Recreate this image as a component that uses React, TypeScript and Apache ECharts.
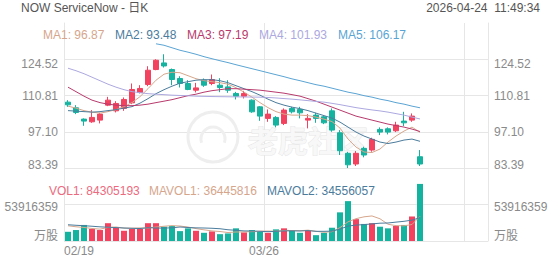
import React, { useEffect, useRef } from 'react';
import * as echarts from 'echarts';

const title = 'NOW ServiceNow - 日K';
const timestamp = '2026-04-24  11:49:34';

const dates = [
  '02/19', '02/20', '02/23', '02/24', '02/25', '02/26', '02/27', '03/02', '03/03', '03/04',
  '03/05', '03/06', '03/09', '03/10', '03/11', '03/12', '03/13', '03/16', '03/17', '03/18',
  '03/19', '03/20', '03/23', '03/24', '03/25', '03/26', '03/27', '03/30', '03/31', '04/01',
  '04/02', '04/06', '04/07', '04/08', '04/09', '04/10', '04/13', '04/14', '04/15', '04/16',
  '04/17', '04/20', '04/21', '04/22', '04/23',
];
const emptySlots = 8;
const labelEvery = 25;

const opens = [
  108.30, 106.15, 101.88, 100.86, 101.50, 107.16, 105.01, 105.92, 108.03, 111.96,
  114.98, 120.63, 123.13, 120.63, 117.24, 115.35, 112.82, 116.60, 115.35, 114.71,
  114.07, 111.58, 110.56, 109.05, 106.52, 102.15, 102.52, 100.26, 105.92, 105.54,
  101.50, 103.39, 102.75, 105.01, 96.71, 88.94, 84.90, 90.82, 90.18, 97.99,
  98.22, 97.47, 101.13, 101.50, 87.65,
];
const closes = [
  107.28, 104.41, 101.13, 102.52, 103.77, 109.05, 107.80, 109.31, 113.09, 113.47,
  120.37, 124.14, 121.99, 116.86, 115.35, 113.09, 113.69, 114.71, 116.86, 113.84,
  112.82, 110.56, 111.58, 104.64, 103.01, 103.77, 99.62, 105.28, 104.64, 104.26,
  102.15, 102.15, 100.48, 97.73, 89.92, 84.60, 88.94, 88.30, 94.22, 96.97,
  96.97, 99.62, 100.48, 103.01, 84.90,
];
const lows = [
  106.52, 103.77, 99.35, 100.48, 100.26, 106.79, 104.41, 105.01, 107.54, 111.58,
  114.33, 120.37, 121.39, 114.71, 113.84, 112.82, 111.96, 114.07, 114.71, 112.07,
  111.81, 109.31, 109.69, 104.26, 101.24, 100.86, 98.75, 99.62, 104.03, 102.15,
  98.38, 100.48, 99.99, 97.09, 88.30, 83.39, 84.14, 87.43, 89.54, 95.84,
  96.09, 96.97, 99.24, 100.86, 84.14,
];
const highs = [
  109.05, 107.16, 102.15, 105.28, 104.26, 110.30, 108.67, 110.07, 115.35, 114.71,
  121.88, 124.52, 126.41, 121.01, 118.10, 116.60, 115.58, 117.24, 118.75, 117.35,
  116.60, 112.18, 112.56, 109.31, 106.79, 105.54, 103.01, 105.92, 106.52, 106.52,
  103.77, 104.26, 103.28, 105.92, 97.73, 89.50, 89.80, 91.43, 94.82, 98.75,
  98.75, 100.86, 104.64, 104.03, 90.18,
];

const ma1 = [
  106.79, 106.03, 105.09, 104.52, 104.14, 104.71, 105.47, 106.60, 108.11, 110.37,
  113.39, 116.60, 118.86, 119.62, 119.43, 118.30, 117.16, 116.41, 116.03, 115.65,
  115.09, 113.77, 112.07, 110.18, 108.11, 106.22, 104.71, 103.77, 103.39, 103.39,
  103.20, 102.64, 101.88, 100.94, 98.48, 94.33, 91.31, 89.43, 89.24, 90.56,
  93.20, 95.47, 97.35, 98.86, 96.87,
];
const ma2 = [
  105.09, 104.90, 104.71, 104.52, 104.71, 105.09, 105.47, 106.03, 106.60, 107.92,
  109.62, 111.50, 113.01, 114.33, 115.47, 116.03, 116.60, 116.79, 116.79, 116.41,
  115.65, 114.52, 113.39, 112.26, 110.94, 109.43, 108.11, 107.16, 106.41, 105.84,
  105.09, 104.14, 103.20, 102.26, 100.75, 98.86, 96.97, 95.47, 94.33, 93.20,
  92.64, 93.20, 93.96, 94.33, 93.48,
];
const ma3 = [
  113.96, 112.26, 110.56, 109.05, 108.11, 107.54, 107.16, 106.97, 106.97, 107.16,
  107.54, 108.11, 108.67, 109.24, 109.99, 110.75, 111.31, 112.07, 112.64, 113.01,
  113.39, 113.39, 113.20, 113.01, 112.82, 112.45, 112.07, 111.69, 111.13, 110.56,
  109.62, 108.67, 107.54, 106.41, 105.28, 104.14, 103.01, 102.26, 101.50, 100.75,
  99.99, 99.43, 98.86, 98.11, 97.19,
];
const ma4 = [
  121.13, 120.18, 119.05, 117.73, 116.41, 115.09, 113.96, 113.01, 112.26, 111.88,
  111.50, 111.31, 111.13, 110.94, 110.82, 110.71, 110.56, 110.48, 110.41, 110.37,
  110.33, 110.30, 110.26, 110.22, 110.18, 110.07, 109.88, 109.65, 109.43, 109.16,
  108.86, 108.56, 108.30, 107.84, 107.35, 106.79, 106.22, 105.77, 105.35, 104.98,
  104.52, 103.96, 103.39, 102.64, 101.93,
];
const ma5 = [
  null, null, null, null, null, null, null, null, null, null,
  null, 130.37, 129.81, 128.86, 127.92, 127.20, 126.41, 125.50, 124.71, 123.96,
  123.25, 122.45, 121.69, 120.94, 120.20, 119.43, 118.67, 117.92, 117.10, 116.41,
  115.65, 114.90, 114.33, 113.58, 112.82, 112.07, 111.50, 110.75, 110.18, 109.43,
  108.86, 108.11, 107.54, 106.79, 106.17,
];

const volumes = [
  13600000, 16200000, 23700000, 17700000, 16200000, 26300000, 19600000, 15100000, 17700000, 17700000,
  26300000, 26300000, 21100000, 22200000, 14600000, 18700000, 15100000, 12100000, 14200000, 10100000,
  11200000, 18700000, 12700000, 16200000, 13600000, 12100000, 17200000, 18700000, 15700000, 12100000,
  16200000, 8600000, 12100000, 19600000, 42300000, 58900000, 32300000, 25200000, 26300000, 21100000,
  18700000, 22200000, 23700000, 36200000, 84305193,
];
const mavol1 = [
  22500000, 21000000, 20000000, 18500000, 17500000, 20000000, 20700000, 19000000, 19000000, 19300000,
  19200000, 20600000, 21800000, 22700000, 22100000, 20600000, 18300000, 16500000, 14900000, 14000000,
  12500000, 13300000, 13400000, 13800000, 14500000, 14700000, 14400000, 15600000, 15500000, 15200000,
  16000000, 14300000, 12900000, 13700000, 19800000, 28300000, 33000000, 35700000, 37000000, 32800000,
  24700000, 22700000, 22400000, 24400000, 36445816,
];
const mavol2 = [
  24000000, 23200000, 22600000, 21800000, 20900000, 20400000, 19800000, 19200000, 18700000, 18400000,
  19600000, 19200000, 19000000, 19500000, 20700000, 19900000, 19400000, 19200000, 18800000, 18100000,
  16600000, 15800000, 14900000, 14800000, 14300000, 13800000, 14300000, 14900000, 15000000, 14800000,
  15300000, 14300000, 14300000, 14600000, 17500000, 22000000, 23500000, 24200000, 25300000, 26300000,
  26600000, 27900000, 29100000, 30800000, 34556057,
];

const priceTicks = [83.39, 97.1, 110.81, 124.52];
const volumeTicks = [0, 53916359];
const volumeUnit = '万股';
const watermark = '老虎社区';

const RED = '#f2425f';
const GREEN = '#14b3a0';
const C_MA1 = '#d6a68c';
const C_MA2 = '#4b7c9c';
const C_MA3 = '#b83a6c';
const C_MA4 = '#aca8e0';
const C_MA5 = '#5aa4d4';
const C_VOL = '#ec6a7e';
const GRID_COLOR = '#e6e6e6';
const LABEL_COLOR = '#8a8a8a';
const FONT = '"Liberation Sans", Arial, "Noto Sans CJK SC", sans-serif';

function buildOption() {
  const categories = [...dates, ...Array(emptySlots).fill('')];
  const pStep = Math.round((priceTicks[1] - priceTicks[0]) * 100) / 100;
  const pMin = priceTicks[0];
  const pMax = Math.round((priceTicks[priceTicks.length - 1] + pStep) * 100) / 100;
  const vStep = volumeTicks[1];
  const vMax = vStep * 2;
  const last = (a: (number | null)[]) => a[a.length - 1] as number;

  const priceLabel = (v: number) => {
    const s = v.toFixed(2);
    if (Math.abs(v - priceTicks[priceTicks.length - 1]) < 1e-6) return `{top|${s}}`;
    if (Math.abs(v - priceTicks[0]) < 1e-6) return `{bot|${s}}`;
    return `{n|${s}}`;
  };
  const volLabel = (v: number) => {
    if (v === 0) return `{bot|${volumeUnit}}`;
    if (v === vStep) return `{mid|${vStep}}`;
    return '';
  };
  const lbl = { color: LABEL_COLOR, fontSize: 12, fontFamily: FONT };
  const priceRich = {
    n: { ...lbl },
    top: { ...lbl, padding: [9, 0, 0, 0] },
    bot: { ...lbl, padding: [0, 0, 6, 0] },
  };
  const volRich = {
    mid: { ...lbl, padding: [4, 0, 0, 0] },
    bot: { ...lbl, padding: [0, 0, 10, 0] },
  };

  const hiddenCat = (gridIndex: number) => ({
    type: 'category',
    gridIndex,
    data: categories,
    boundaryGap: true,
    axisLine: { show: false },
    axisTick: { show: false },
    axisLabel: { show: false },
    splitLine: { show: false },
  });

  const priceAxis = (position: 'left' | 'right') => ({
    type: 'value',
    gridIndex: 0,
    position,
    min: pMin,
    max: pMax,
    interval: pStep,
    axisLine: { show: true, lineStyle: { color: GRID_COLOR } },
    axisTick: { show: false },
    splitLine: {
      show: position === 'left',
      lineStyle: { color: [GRID_COLOR, GRID_COLOR, GRID_COLOR, GRID_COLOR, 'rgba(0,0,0,0)'] },
    },
    axisLabel: { showMaxLabel: false, margin: 6, formatter: priceLabel, rich: priceRich, ...lbl },
  });
  const volAxis = (position: 'left' | 'right') => ({
    type: 'value',
    gridIndex: 1,
    position,
    min: 0,
    max: vMax,
    interval: vStep,
    axisLine: { show: true, lineStyle: { color: GRID_COLOR } },
    axisTick: { show: false },
    splitLine: { show: position === 'left', lineStyle: { color: GRID_COLOR } },
    axisLabel: { showMaxLabel: false, margin: 6, formatter: volLabel, rich: volRich, ...lbl },
  });

  const maLine = (name: string, data: (number | null)[], color: string) => ({
    name,
    type: 'line',
    xAxisIndex: 0,
    yAxisIndex: 0,
    data,
    showSymbol: false,
    symbol: 'none',
    lineStyle: { width: 1, color },
    itemStyle: { color },
    z: 3,
  });
  const volLine = (name: string, data: number[], color: string) => ({
    name,
    type: 'line',
    xAxisIndex: 1,
    yAxisIndex: 2,
    data,
    showSymbol: false,
    symbol: 'none',
    lineStyle: { width: 1, color },
    itemStyle: { color },
    z: 3,
  });

  const txt = (text: string, x: number, y: number, fill: string, align = 'left') => ({
    type: 'text',
    x,
    y,
    z: 10,
    style: { text, fill, fontSize: 12, fontFamily: FONT, align, verticalAlign: 'middle' },
  });

  return {
    animation: false,
    backgroundColor: '#ffffff',
    grid: [
      { left: 64, right: 64, top: 23, height: 145 },
      { left: 64, right: 64, top: 168, height: 73 },
      { left: 64, right: 64, top: 23, height: 218 },
    ],
    xAxis: [
      hiddenCat(0),
      hiddenCat(1),
      {
        type: 'value',
        gridIndex: 2,
        min: 0,
        max: categories.length,
        interval: labelEvery,
        axisLine: { show: false },
        axisTick: { show: false },
        splitLine: { show: true, lineStyle: { color: GRID_COLOR } },
        axisLabel: {
          ...lbl,
          margin: 4,
          showMaxLabel: false,
          alignMinLabel: 'left',
          formatter: (v: number) => dates[v] ?? '',
        },
      },
    ],
    yAxis: [
      priceAxis('left'),
      priceAxis('right'),
      volAxis('left'),
      volAxis('right'),
      { type: 'value', gridIndex: 2, show: false, min: 0, max: 1 },
    ],
    series: [
      {
        name: 'K',
        type: 'candlestick',
        xAxisIndex: 0,
        yAxisIndex: 0,
        barWidth: 6,
        data: dates.map((_, i) => [opens[i], closes[i], lows[i], highs[i]]),
        itemStyle: { color: RED, color0: GREEN, borderColor: RED, borderColor0: GREEN, borderWidth: 1 },
        z: 2,
      },
      maLine('MA1', ma1, C_MA1),
      maLine('MA2', ma2, C_MA2),
      maLine('MA3', ma3, C_MA3),
      maLine('MA4', ma4, C_MA4),
      maLine('MA5', ma5, C_MA5),
      {
        name: 'VOL',
        type: 'bar',
        xAxisIndex: 1,
        yAxisIndex: 2,
        barWidth: 6,
        data: volumes.map((v, i) => ({ value: v, itemStyle: { color: closes[i] >= opens[i] ? RED : GREEN } })),
        z: 2,
      },
      volLine('MAVOL1', mavol1, C_MA1),
      volLine('MAVOL2', mavol2, C_MA2),
    ],
    graphic: [
      {
        type: 'circle',
        z: 1,
        shape: { cx: 213, cy: 137, r: 25 },
        style: { fill: 'rgba(0,0,0,0)', stroke: '#eeeeee', lineWidth: 3 },
      },
      {
        type: 'arc',
        z: 1,
        shape: { cx: 213, cy: 139, r: 12, startAngle: Math.PI * 0.9, endAngle: Math.PI * 2.1 },
        style: { fill: 'rgba(0,0,0,0)', stroke: '#efefef', lineWidth: 3 },
      },
      {
        type: 'text',
        x: 248,
        y: 139,
        z: 1,
        style: {
          text: watermark,
          fill: '#f8f8f8',
          stroke: '#e6e6e6',
          lineWidth: 1,
          fontSize: 30,
          fontWeight: 'bold',
          fontFamily: '"Noto Sans CJK SC", sans-serif',
          align: 'left',
          verticalAlign: 'middle',
        },
      },
      txt(title, 21, 8, '#555555'),
      txt(timestamp, 540, 8, '#555555', 'right'),
      txt(`MA1: ${last(ma1).toFixed(2)}`, 43, 35, C_MA1),
      txt(`MA2: ${last(ma2).toFixed(2)}`, 115, 35, C_MA2),
      txt(`MA3: ${last(ma3).toFixed(2)}`, 187, 35, C_MA3),
      txt(`MA4: ${last(ma4).toFixed(2)}`, 259, 35, C_MA4),
      txt(`MA5: ${last(ma5).toFixed(2)}`, 338, 35, C_MA5),
      txt(`VOL1: ${last(volumes)}`, 49, 191, C_VOL),
      txt(`MAVOL1: ${last(mavol1)}`, 149, 191, C_MA1),
      txt(`MAVOL2: ${last(mavol2)}`, 267, 191, C_MA2),
    ],
  };
}

export default function App() {
  const ref = useRef<HTMLDivElement>(null);
  useEffect(() => {
    if (!ref.current) return;
    const chart = echarts.init(ref.current, undefined, { renderer: 'svg' });
    chart.setOption(buildOption() as any);
    return () => chart.dispose();
  }, []);
  return (
    <div
      ref={ref}
      style={{ position: 'fixed', left: 0, top: 0, width: 552, height: 265, background: '#ffffff' }}
    />
  );
}
